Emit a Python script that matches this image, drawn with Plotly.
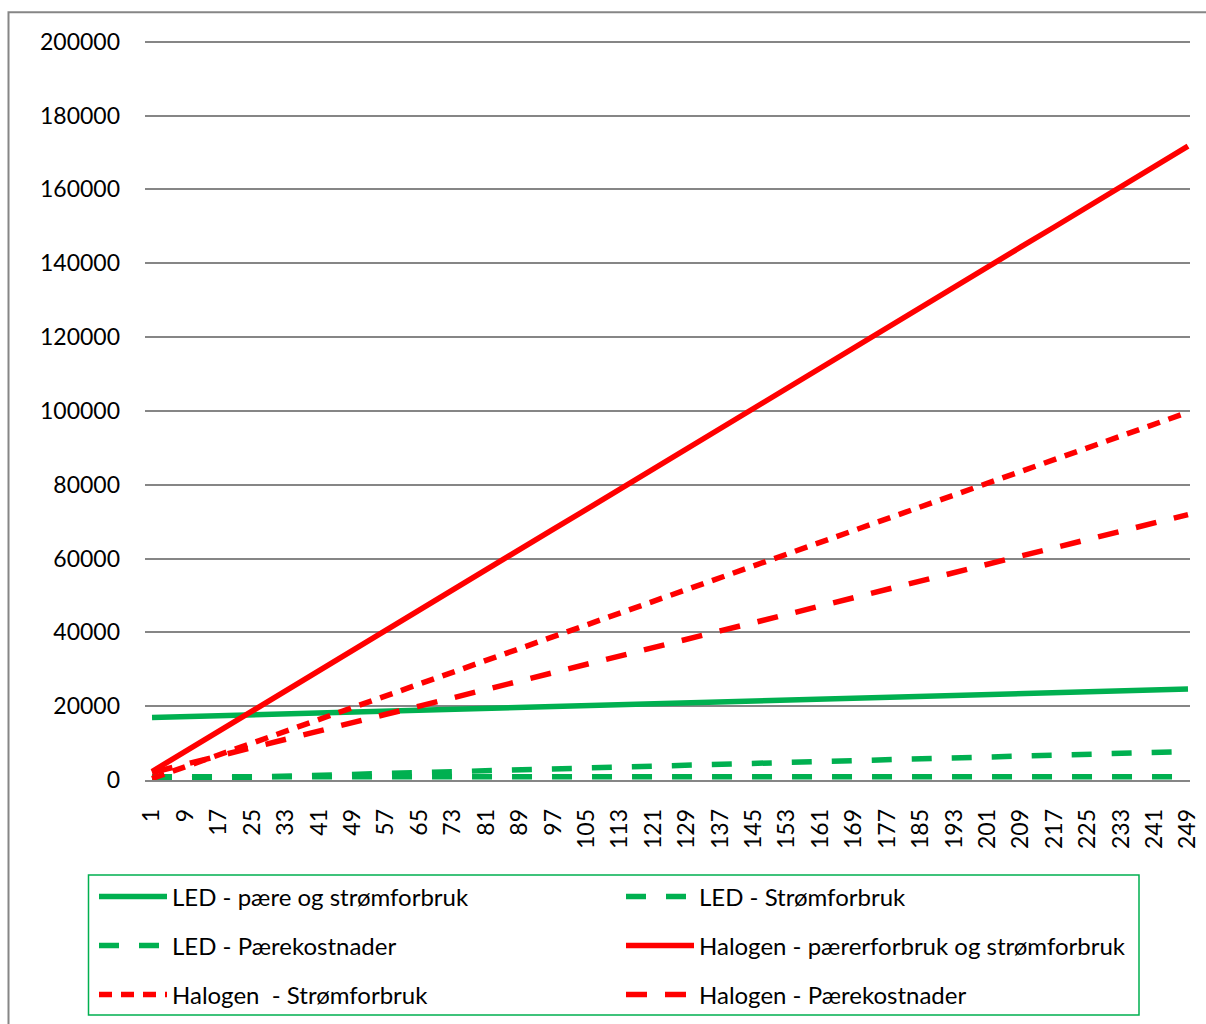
import plotly.graph_objects as go

# Day numbers shown on the category axis (every 8th day)
days = [1, 9, 17, 25, 33, 41, 49, 57, 65, 73, 81, 89, 97, 105, 113, 121,
        129, 137, 145, 153, 161, 169, 177, 185, 193, 201, 209, 217, 225, 233, 241, 249]
tick_labels = [str(d) for d in days]

led_total = [16900, 17150, 17400, 17650, 17900, 18150, 18400, 18650, 18900, 19150, 19400,
             19650, 19900, 20150, 20400, 20650, 20900, 21150, 21400, 21650, 21900, 22150,
             22400, 22650, 22900, 23150, 23400, 23650, 23900, 24150, 24400, 24650]
led_strom = [30, 280, 530, 780, 1020, 1270, 1520, 1770, 2020, 2260, 2510, 2760, 3010, 3260,
             3500, 3750, 4000, 4250, 4500, 4740, 4990, 5240, 5490, 5740, 5980, 6230, 6480,
             6730, 6980, 7220, 7470, 7720]
led_paere = [850, 850, 850, 850, 850, 850, 850, 850, 850, 850, 850, 850, 850, 850, 850, 850,
             850, 850, 850, 850, 850, 850, 850, 850, 850, 850, 850, 850, 850, 850, 850, 850]
hal_total = [2300, 7800, 13200, 18700, 24200, 29600, 35100, 40600, 46000, 51500, 57000,
             62400, 67900, 73300, 78800, 84300, 89700, 95200, 100700, 106100, 111600, 117100,
             122500, 128000, 133400, 138900, 144400, 149800, 155300, 160800, 166200, 171700]
hal_strom = [400, 3600, 6800, 10000, 13200, 16400, 19600, 22800, 26000, 29200, 32400, 35600,
             38800, 42000, 45200, 48400, 51600, 54800, 58000, 61200, 64400, 67600, 70800,
             74000, 77200, 80400, 83600, 86800, 90000, 93200, 96400, 99600]
hal_paere = [2000, 4300, 6500, 8800, 11000, 13300, 15500, 17800, 20000, 22300, 24600, 26800,
             29100, 31300, 33600, 35800, 38100, 40400, 42600, 44900, 47100, 49400, 51600,
             53900, 56100, 58400, 60700, 62900, 65200, 67400, 69700, 71900]

names = ["LED - pære og strømforbruk", "LED - Strømforbruk", "LED - Pærekostnader",
         "Halogen - pærerforbruk og strømforbruk", "Halogen  - Strømforbruk",
         "Halogen - Pærekostnader"]

GREEN = "#00b050"
RED = "#ff0000"
FONT = "Lato"

series = [
    (names[0], led_total, GREEN, "solid"),
    (names[1], led_strom, GREEN, "20px,20px"),
    (names[2], led_paere, GREEN, "20px,20px"),
    (names[3], hal_total, RED, "solid"),
    (names[4], hal_strom, RED, "13px,9px"),
    (names[5], hal_paere, RED, "21px,18px"),
]

FW, FH = 1206, 1024
Y_MAX = 201000
L, R, B = 145, 1190, 780
T = B - 738 * Y_MAX / 200000
W, H = R - L, B - T
def px(x):
    return (x - L) / W
def py(y):
    return (B - y) / H

# legend item positions in page pixels (left of symbol, vertical centre)
leg_pos = [(94, 897), (621, 897), (94, 946), (621, 946), (94, 995), (621, 995)]

fig = go.Figure()
layout_legends = {}
for i, (nm, vals, col, dash) in enumerate(series):
    lname = "legend" if i == 0 else f"legend{i+1}"
    fig.add_trace(go.Scatter(
        x=days, y=vals, mode="lines", name=nm,
        line=dict(color=col, width=5.5, dash=dash),
        legend=lname, showlegend=True,
    ))
    lx, ly = leg_pos[i]
    layout_legends[lname] = dict(
        xref="container", yref="container",
        x=lx / FW, y=1 - ly / FH, xanchor="left", yanchor="middle",
        bgcolor="rgba(0,0,0,0)", borderwidth=0, itemwidth=68,
        font=dict(family=FONT, size=24, color="#000000"),
    )

fig.update_layout(
    width=FW, height=FH,
    margin=dict(l=L, r=FW - R, t=T, b=FH - B, autoexpand=False),
    paper_bgcolor="white", plot_bgcolor="white",
    font=dict(family=FONT, size=23, color="#000000"),
    **layout_legends,
)

fig.update_xaxes(
    range=[-0.68, 249.48], tickvals=days, ticktext=tick_labels, tickangle=-90,
    showgrid=False, zeroline=False, showline=True, linecolor="#868686", linewidth=1.5,
    ticks="", ticklabelstandoff=18, tickfont=dict(family=FONT, size=23),
)
fig.update_yaxes(
    range=[0, Y_MAX], tickvals=list(range(0, 200001, 20000)), showgrid=True,
    gridcolor="#868686", gridwidth=1.5, zeroline=False, showline=False, ticks="",
    ticklabelstandoff=24, tickfont=dict(family=FONT, size=23), tickformat="d",
)

# outer chart border and legend frame
fig.add_shape(type="rect", xref="paper", yref="paper",
              x0=px(8.5), x1=px(1215), y0=py(12.5), y1=py(1035),
              line=dict(color="#868686", width=2), fillcolor="rgba(0,0,0,0)", layer="below")
fig.add_shape(type="rect", xref="paper", yref="paper",
              x0=px(88.5), x1=px(1139), y0=py(875), y1=py(1015),
              line=dict(color=GREEN, width=1.5), fillcolor="rgba(0,0,0,0)", layer="below")

post = (
    "document.documentElement.style.margin='0';"
    "document.documentElement.style.overflow='hidden';"
    "document.body.style.margin='0';"
    "document.body.style.overflow='hidden';"
    "var d=document.getElementById('{plot_id}');"
    "d.style.position='absolute';d.style.left='0px';d.style.top='0px';"
)
fig.write_html("out.html", config={"displayModeBar": False}, post_script=post)
